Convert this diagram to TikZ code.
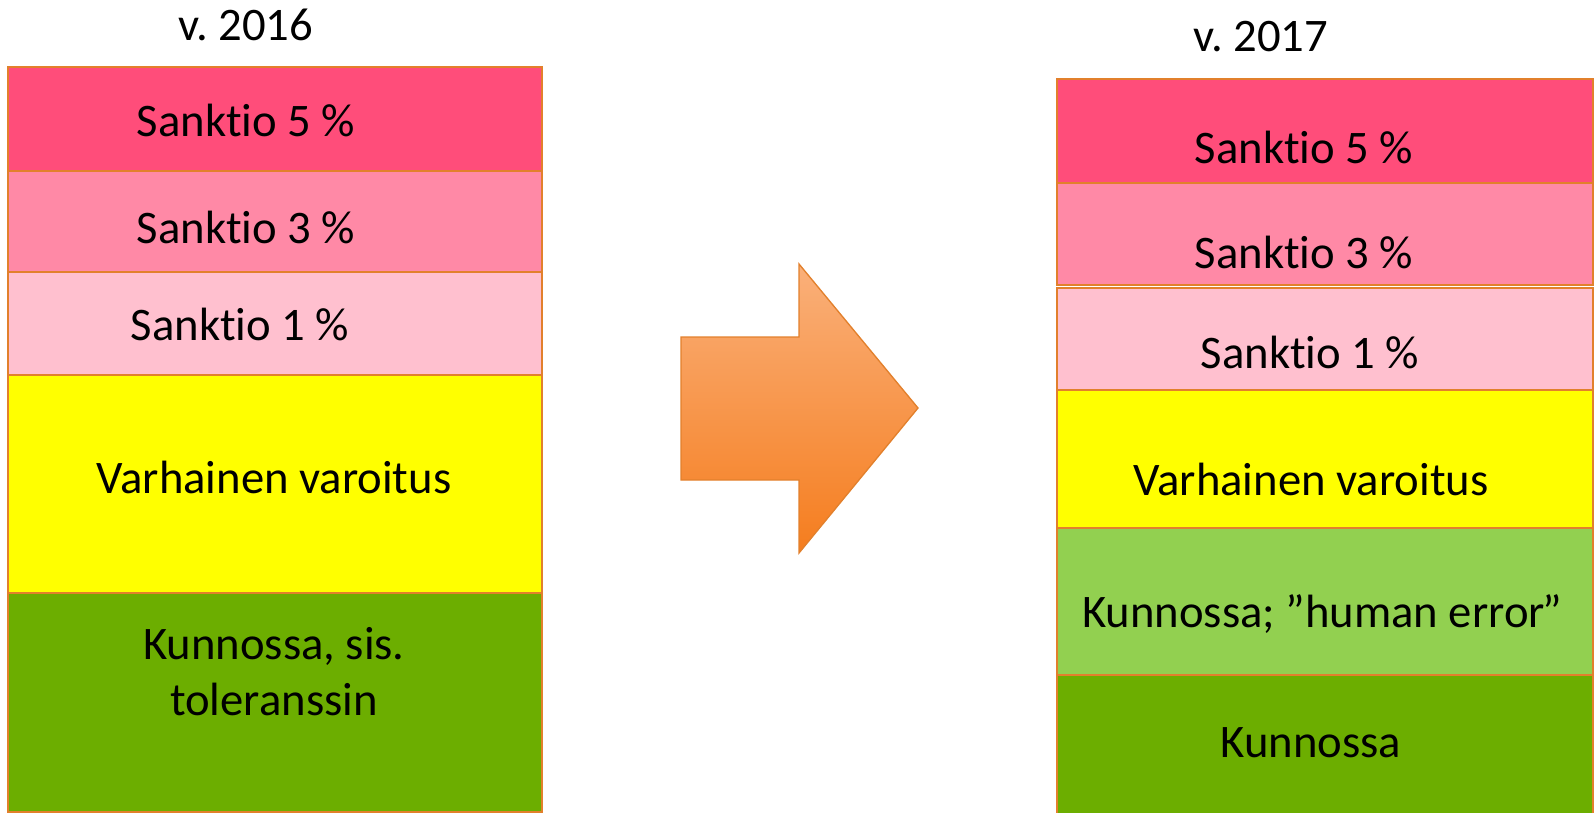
\documentclass[tikz,border=0pt]{standalone}
\usepackage{fontspec}
\setmainfont[Ligatures=NoCommon]{Carlito}

\definecolor{sank5}{RGB}{255,77,122}
\definecolor{sank3}{RGB}{255,137,166}
\definecolor{sank1}{RGB}{255,192,207}
\definecolor{varo}{RGB}{255,255,0}
\definecolor{kunto}{RGB}{108,174,0}
\definecolor{human}{RGB}{146,208,80}
\definecolor{reuna}{RGB}{226,128,44}
\definecolor{nuolival}{RGB}{250,176,122}
\definecolor{nuolitum}{RGB}{245,125,30}

\tikzset{every picture/.style={line width=0.75pt}}
\tikzset{
  band/.style={draw=reuna, line width=1.5pt},
  label/.style={inner sep=0pt, anchor=base, font=\fontsize{35}{42}\selectfont, align=center}
}
\frenchspacing

\begin{document}
\begin{tikzpicture}[x=0.75pt,y=0.75pt,yscale=-1,xscale=1]
\useasboundingbox (0,0) rectangle (1594,813); %diagram is 1594 wide, 813 high

%Rectangles: v. 2016
\draw [band, fill=sank5] (8,67) rectangle (542,171) ;
\draw [band, fill=sank3] (8,171) rectangle (542,272) ;
\draw [band, fill=sank1] (8,272) rectangle (542,375) ;
\draw [band, fill=varo] (8,375) rectangle (542,593) ;
\draw [band, fill=kunto] (8,593) rectangle (542,812) ;

%Rectangles: v. 2017
\draw [band, fill=sank5] (1057,79) rectangle (1593,183) ;
\draw [band, fill=sank3] (1057,183) rectangle (1593,285) ;
\draw [band, fill=sank1] (1057,288) rectangle (1593,390) ;
\draw [band, fill=varo] (1057,390) rectangle (1593,528) ;
\draw [band, fill=human] (1057,528) rectangle (1593,675) ;
\draw [band, fill=kunto] (1057,675) rectangle (1593,815) ;

%Shape: Right Arrow
\shade [top color=nuolival, bottom color=nuolitum, draw=reuna, line width=1pt]
  (681,337) -- (799,337) -- (799,264) -- (918,408) -- (799,553) -- (799,480) -- (681,480) -- cycle ;

% Text Node
\node [label] (v16) at (246,41) {v. 2016};
\node [label] (s5a) at (246,137) {Sanktio 5 \%};
\node [label] (s3a) at (246,243) {Sanktio 3 \%};
\node [label] (s1a) at (240,340) {Sanktio 1 \%};
\node [label] (vva) at (274,493) {Varhainen varoitus};
\node [label] (kua) at (274,715) {Kunnossa, sis.\\toleranssin};
% Text Node
\node [label] (v17) at (1261,52) {v. 2017};
\node [label] (s5b) at (1304,163) {Sanktio 5 \%};
\node [label] (s3b) at (1304,268) {Sanktio 3 \%};
\node [label] (s1b) at (1310,368) {Sanktio 1 \%};
\node [label] (vvb) at (1311,495) {Varhainen varoitus};
\node [label] (hub) at (1322,627) {Kunnossa; ”human error\kern-0.06em”};
\node [label] (kub) at (1311,757) {Kunnossa};

\end{tikzpicture}
\end{document}
